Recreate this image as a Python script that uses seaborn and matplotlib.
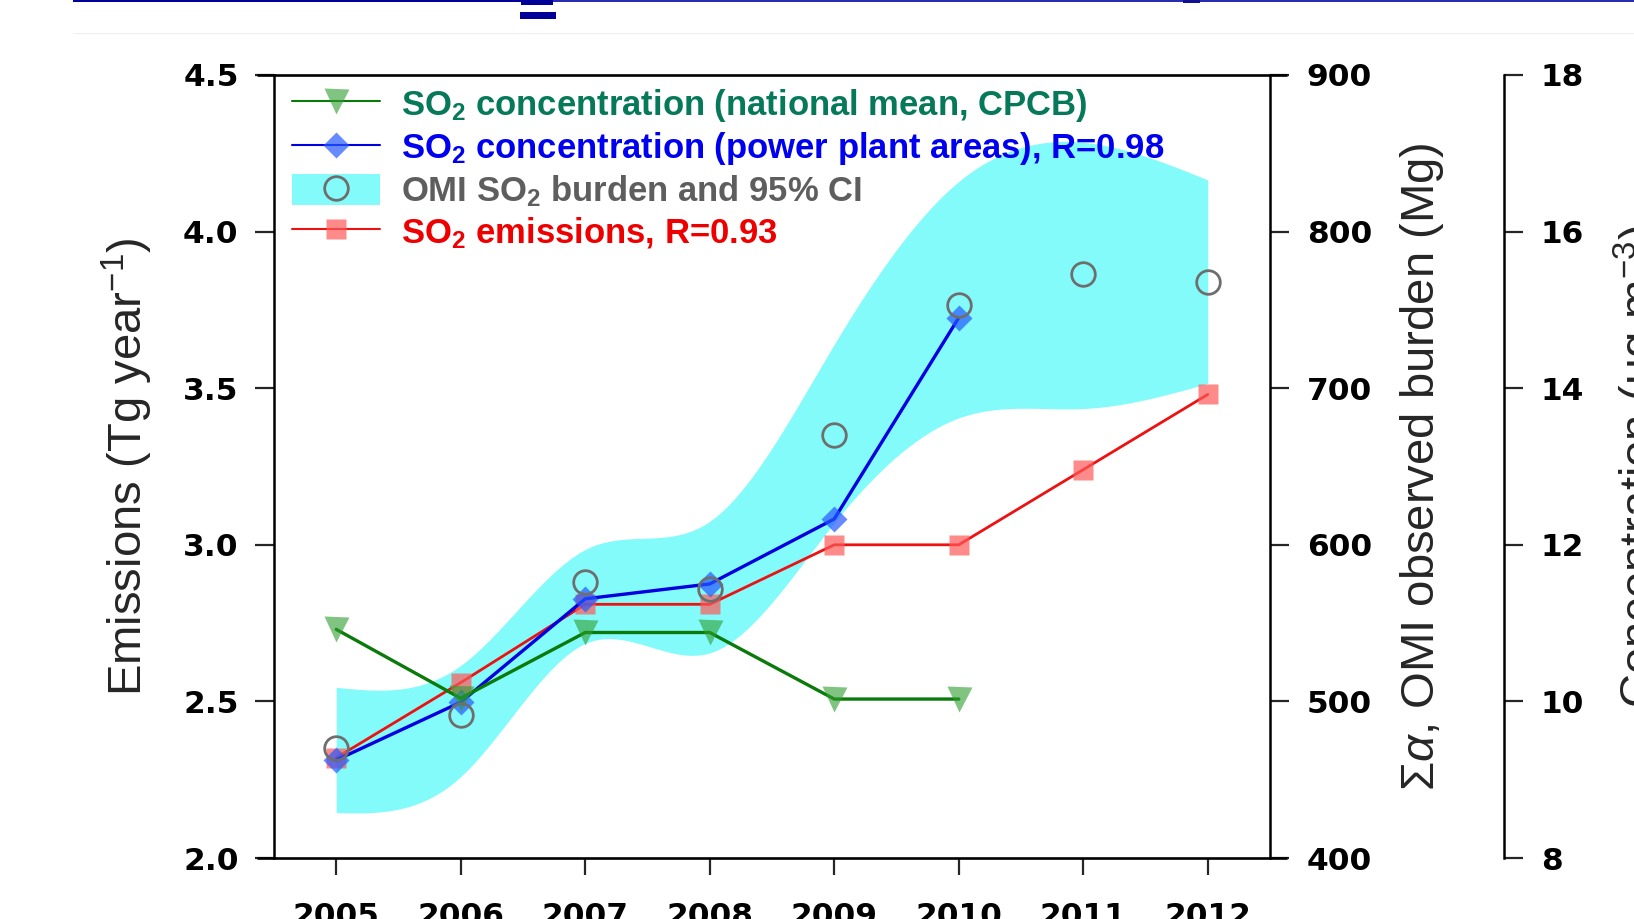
import numpy as np
import matplotlib
matplotlib.use("Agg")
import matplotlib.pyplot as plt
from matplotlib.lines import Line2D
from matplotlib.patches import Patch, Rectangle
import seaborn as sns

# ---- data -------------------------------------------------------------
years = [2005, 2006, 2007, 2008, 2009, 2010, 2011, 2012]
emissions = [2.32, 2.56, 2.81, 2.81, 3.00, 3.00, 3.24, 3.48]          # Tg / yr
omi_burden = [470, 491, 576, 572, 670, 753, 773, 768]                 # Mg
omi_ci_low = [429, 452, 537, 531, 614, 681, 687, 703]
omi_ci_high = [509, 523, 597, 615, 728, 832, 857, 833]

conc_years = [2005, 2006, 2007, 2008, 2009, 2010]
conc_power = [9.25, 9.99, 11.31, 11.50, 12.33, 14.90]                 # ug / m3
conc_national = [10.92, 10.04, 10.88, 10.88, 10.03, 10.03]

left_ticks = [2.0, 2.5, 3.0, 3.5, 4.0, 4.5]
mid_ticks = [400, 500, 600, 700, 800, 900]
conc_ticks = [8, 10, 12, 14, 16, 18]

legend_labels = [
    r"SO$_\mathbf{2}$ concentration (national mean, CPCB)",
    r"SO$_\mathbf{2}$ concentration (power plant areas), R=0.98",
    r"OMI SO$_\mathbf{2}$ burden and 95% CI",
    r"SO$_\mathbf{2}$ emissions, R=0.93",
]
legend_colors = ["#06795A", "#0000F0", "#5E5E5E", "#EE0000"]

# ---- style ------------------------------------------------------------
sns.set_theme(style="white")
plt.rcParams["font.family"] = ["DejaVu Sans"]
plt.rcParams["mathtext.fontset"] = "custom"
plt.rcParams["mathtext.rm"] = "Liberation Sans"
plt.rcParams["mathtext.it"] = "Liberation Sans:italic"
plt.rcParams["mathtext.bf"] = "Liberation Sans:bold"
plt.rcParams["mathtext.sf"] = "Liberation Sans"
plt.rcParams["axes.linewidth"] = 1.8

green_line, green_face = "#0B7A0B", (0.18, 0.62, 0.18, 0.6)
blue_line, blue_face = "#0000E0", (0.15, 0.35, 1.0, 0.7)
red_line, red_face = "#EE1111", (1.0, 0.35, 0.35, 0.7)
cyan = "#84FBFB"
grey = "#6E6E6E"

W, H = 1634, 919
fig = plt.figure(figsize=(W / 100, H / 100), dpi=100)
fig.patch.set_facecolor("white")

x0, x1, y0, y1 = 274, 1270, 75, 858
ax = fig.add_axes([x0 / W, 1 - y1 / H, (x1 - x0) / W, (y1 - y0) / H])
ax2 = ax.twinx()   # OMI burden scale (Mg)
ax3 = ax.twinx()   # concentration scale (ug m-3)
ax4 = ax.twinx()   # overlay for OMI markers, same scale as ax2

ax2.set_zorder(0)
ax.set_zorder(1)
ax3.set_zorder(2)
ax4.set_zorder(3)
for a in (ax, ax3, ax4):
    a.patch.set_visible(False)

# spine layout first (moving a spine resets its tick labels)
ax.spines["top"].set_visible(False)
ax.spines["bottom"].set_visible(False)
ax.spines["right"].set_visible(False)
for a in (ax2, ax3):
    for side in ("top", "bottom", "left"):
        a.spines[side].set_visible(False)
ax.spines["left"].set_color("black")
ax2.spines["right"].set_color("black")
ax3.spines["right"].set_position(("axes", (1504 - x0) / (x1 - x0)))
ax3.spines["right"].set_color("black")
for s in ax4.spines.values():
    s.set_visible(False)


def natural_spline(x, y, num=400):
    x = np.asarray(x, float)
    y = np.asarray(y, float)
    n = len(x)
    h = np.diff(x)
    A = np.zeros((n, n))
    b = np.zeros(n)
    A[0, 0] = A[-1, -1] = 1.0
    for i in range(1, n - 1):
        A[i, i - 1] = h[i - 1]
        A[i, i] = 2 * (h[i - 1] + h[i])
        A[i, i + 1] = h[i]
        b[i] = 3 * ((y[i + 1] - y[i]) / h[i] - (y[i] - y[i - 1]) / h[i - 1])
    c = np.linalg.solve(A, b)
    xs = np.linspace(x[0], x[-1], num)
    idx = np.clip(np.searchsorted(x, xs) - 1, 0, n - 2)
    dx = xs - x[idx]
    bc = (y[idx + 1] - y[idx]) / h[idx] - h[idx] * (2 * c[idx] + c[idx + 1]) / 3
    d = (c[idx + 1] - c[idx]) / (3 * h[idx])
    return xs, y[idx] + bc * dx + c[idx] * dx ** 2 + d * dx ** 3


# OMI 95% confidence band
bx, blo = natural_spline(years, omi_ci_low)
_, bhi = natural_spline(years, omi_ci_high)
ax2.fill_between(bx, blo, bhi, color=cyan, linewidth=0, zorder=1)

# emissions
sns.lineplot(x=years, y=emissions, ax=ax, color=red_line, linewidth=2.0,
             marker="s", markersize=14, markerfacecolor=red_face,
             markeredgecolor="none", zorder=3)

# concentrations
sns.lineplot(x=conc_years, y=conc_power, ax=ax3, color=blue_line, linewidth=2.4,
             marker="D", markersize=13, markerfacecolor=blue_face,
             markeredgecolor="none", zorder=3)
sns.lineplot(x=conc_years, y=conc_national, ax=ax3, color=green_line, linewidth=2.4,
             marker="v", markersize=18, markerfacecolor=green_face,
             markeredgecolor="none", zorder=4)

# OMI burden markers
sns.lineplot(x=years, y=omi_burden, ax=ax4, linestyle="none", marker="o",
             markersize=17, markerfacecolor="none", markeredgecolor=grey,
             markeredgewidth=2.0, zorder=5)

# ---- axes -------------------------------------------------------------
ax.set_xlim(2004.5, 2012.5)
ax.set_ylim(2.0, 4.5)
ax2.set_ylim(400, 900)
ax4.set_ylim(400, 900)
ax3.set_ylim(8, 18)
ax4.set_yticks([])

tick_kw = dict(fontsize=22.5, fontweight="bold", color="black")
ax.set_xticks(years)
ax.set_xticklabels([str(y) for y in years], **tick_kw)
ax.set_yticks(left_ticks)
ax.set_yticklabels([f"{v:.1f}" for v in left_ticks], **tick_kw)
ax2.set_yticks(mid_ticks)
ax2.set_yticklabels([str(v) for v in mid_ticks], **tick_kw)
ax3.set_yticks(conc_ticks)
ax3.set_yticklabels([str(v) for v in conc_ticks], **tick_kw)

ax.tick_params(axis="x", direction="out", length=12.5, width=1.6, pad=19,
               bottom=True)
ax.tick_params(axis="y", direction="out", length=13.5, width=1.6, pad=12,
               left=True)
ax2.tick_params(axis="y", direction="out", length=13.5, width=1.6, pad=13,
                right=True)
ax3.tick_params(axis="y", direction="out", length=13.5, width=1.6, pad=13,
                right=True)

# top and bottom frame lines running slightly past the side spines
ext = 17 / (x1 - x0)
for yv in (0, 1):
    ax.plot([-ext, 1 + ext], [yv, yv], transform=ax.transAxes, color="black",
            linewidth=1.9, clip_on=False, zorder=10, solid_capstyle="butt")

label_font = dict(family="Liberation Sans", fontsize=34, fontweight="normal")
ax.set_ylabel(r"Emissions (Tg year$^{-1}$)", **label_font)
ax.yaxis.set_label_coords((155 - x0) / (x1 - x0), 0.5)
ax2.set_ylabel(r"$\mathit{\Sigma\alpha}$, OMI observed burden (Mg)", **label_font)
ax2.yaxis.set_label_coords((1398 - x0) / (x1 - x0), 0.5)
ax3.set_ylabel(r"Concentration (μg m$^{-3}$)", **label_font)
ax3.yaxis.set_label_coords((1612 - x0) / (x1 - x0), 0.5)

# ---- legend -----------------------------------------------------------
handles = [
    Line2D([], [], color=green_line, lw=1.5, marker="v", ms=18,
           mfc=green_face, mec="none"),
    Line2D([], [], color=blue_line, lw=1.5, marker="D", ms=13,
           mfc=blue_face, mec="none"),
    (Patch(facecolor=cyan, edgecolor="none"),
     Line2D([], [], ls="none", marker="o", ms=17, mfc="none", mec=grey, mew=2)),
    Line2D([], [], color=red_line, lw=1.5, marker="s", ms=14,
           mfc=red_face, mec="none"),
]
leg = ax4.legend(handles, legend_labels, loc="upper left",
                 bbox_to_anchor=((292 - x0) / (x1 - x0), (y1 - 87) / (y1 - y0)),
                 frameon=False, borderpad=0, borderaxespad=0,
                 handlelength=2.55, handleheight=1.0, handletextpad=0.6,
                 labelspacing=0.18,
                 prop=dict(family="Liberation Sans", weight="bold", size=24.9))
for txt, col in zip(leg.get_texts(), legend_colors):
    txt.set_color(col)

# ---- page decorations along the top edge --------------------------------
def px_rect(xa, ya, xb, yb, color):
    fig.add_artist(Rectangle((xa / W, 1 - yb / H), (xb - xa) / W, (yb - ya) / H,
                             transform=fig.transFigure, facecolor=color,
                             edgecolor="none", zorder=20))

px_rect(73, 0, 521, 2.2, "#000099")
px_rect(521, 0, 553, 5, "#000099")
px_rect(553, 0, W, 2.2, "#2A2AB2")
px_rect(1183, 0, 1200, 3, "#101090")
px_rect(520, 12, 556, 19, "#000099")
px_rect(73, 33, W, 34.2, "#EEEEEE")

fig.savefig("out.png", dpi=100, facecolor="white")
